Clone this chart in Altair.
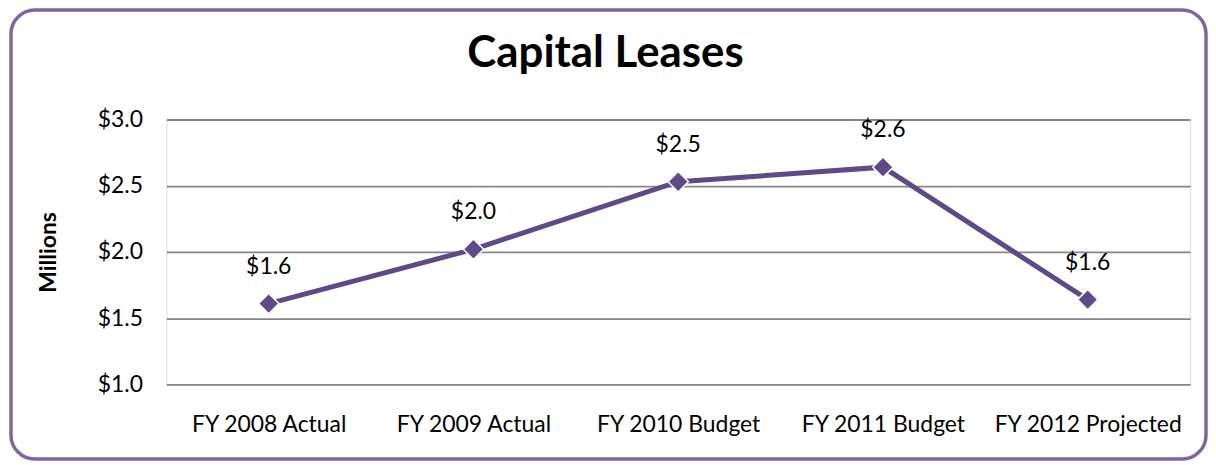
import altair as alt
import pandas as pd

categories = ["FY 2008 Actual", "FY 2009 Actual", "FY 2010 Budget", "FY 2011 Budget", "FY 2012 Projected"]
values = [1.61, 2.02, 2.53, 2.64, 1.64]
y_ticks = [1.0, 1.5, 2.0, 2.5, 3.0]
title_text = ["Capital Leases"]

df = pd.DataFrame({"cat": categories, "val": values})

FONT = "Lato"
LINE = "#5E4A86"
BORDER = "#8064A2"

W, H = 1028, 266

x = alt.X("cat:N", sort=categories,
          scale=alt.Scale(type="point", padding=0.5),
          axis=alt.Axis(title=None, labelAngle=0, ticks=False, domain=False, grid=False,
                        labelPadding=29, labelFontSize=23, labelFont=FONT, labelColor="#000",
                        labelLimit=0))
y = alt.Y("val:Q", scale=alt.Scale(domain=[1, 3], nice=False, zero=False),
          axis=alt.Axis(values=y_ticks, format="$.1f", ticks=False, domain=False,
                        grid=True, gridColor="#868686", gridWidth=1.8,
                        labelPadding=24, labelFontSize=23, labelFont=FONT, labelColor="#000",
                        title="Millions", titleFont=FONT, titleFontSize=23, titleFontWeight="bold",
                        titleX=-118, titleY=H / 2, titleAngle=-90, titleAlign="center",
                        titleBaseline="middle", titleColor="#000"))

base = alt.Chart(df)
line = base.mark_line(color=LINE, strokeWidth=5).encode(x=x, y=y)
pts = base.mark_point(shape="diamond", filled=True, size=420, color=LINE,
                      stroke="white", strokeWidth=1.5, opacity=1).encode(x=x, y=y)
labels = base.mark_text(dy=-37, fontSize=23, font=FONT, color="#000").encode(
    x=x, y=y, text=alt.Text("val:Q", format="$.1f"))

border = alt.Chart(pd.DataFrame({"a": [0]})).mark_rect(
    fill=None, stroke=BORDER, strokeWidth=3.5, cornerRadius=24
).encode(x=alt.value(-156), x2=alt.value(1044), y=alt.value(-110), y2=alt.value(341))

title = alt.Chart(pd.DataFrame({"t": title_text})).mark_text(
    font=FONT, fontSize=44, fontWeight="bold", color="#000", align="center", baseline="alphabetic"
).encode(text="t:N", x=alt.value(441), y=alt.value(-53))

chart = alt.layer(border, line, pts, labels, title).properties(
    width=W, height=H,
    autosize=alt.AutoSizeParams(type="none"),
    padding={"left": 159, "top": 111, "right": 18, "bottom": 79},
).configure_view(stroke=None).configure(background="white")

chart.save("out.html", embed_options={"renderer": "svg", "actions": False})
